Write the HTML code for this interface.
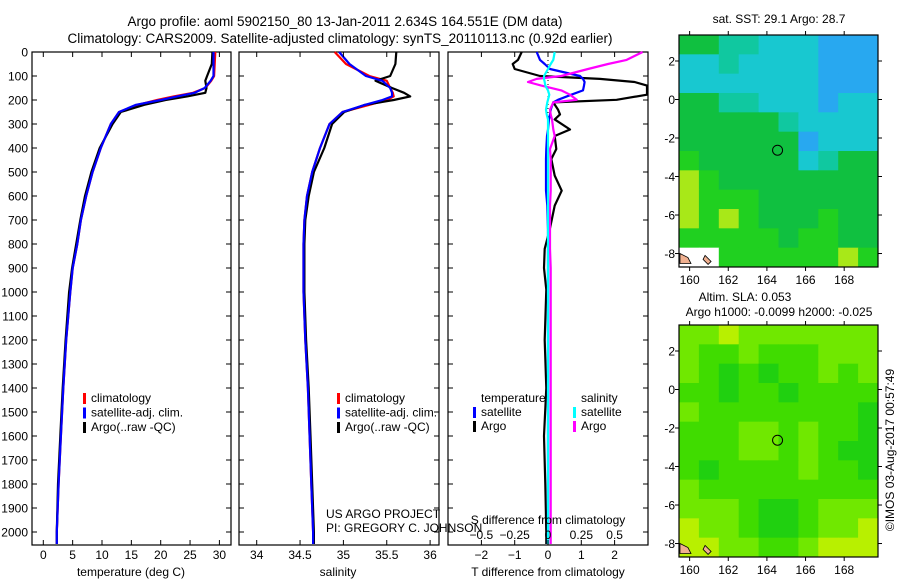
<!DOCTYPE html>
<html><head><meta charset="utf-8">
<style>
html,body{margin:0;padding:0;background:#fff;}
#root{position:relative;width:900px;height:580px;overflow:hidden;font-family:"Liberation Sans",sans-serif;}
svg text{font-family:"Liberation Sans",sans-serif;}
</style></head>
<body>
<div id="root">
<svg id="fig" width="900" height="580" xmlns="http://www.w3.org/2000/svg"></svg>
</div>
<script>
// ---------- DATA ----------
const depths = [0,50,100,120,150,170,185,200,220,250,300,400,500,600,700,800,900,1000,1200,1400,1600,1800,2000,2050];
const tempClim = [29.3,29.2,29.1,28.6,27.6,25.5,22.2,19.4,16.1,12.9,11.5,9.8,8.4,7.3,6.4,5.8,5.0,4.6,3.9,3.4,3.0,2.6,2.3,2.3];
const tempSat  = [29.0,29.0,29.0,28.5,27.5,25.8,22.8,20.0,15.8,12.9,11.5,9.8,8.4,7.3,6.4,5.8,5.0,4.6,3.9,3.4,3.0,2.6,2.3,2.3];
const tempArgo = [28.8,28.7,27.9,27.6,27.8,27.6,24.5,20.8,17.2,13.2,11.8,9.6,8.2,7.1,6.3,5.6,4.9,4.4,3.8,3.3,2.9,2.5,2.3,2.3];
const salClim = [34.90,35.03,35.30,35.50,35.54,35.57,35.58,35.50,35.30,34.99,34.84,34.73,34.64,34.58,34.55,34.54,34.54,34.54,34.56,34.59,34.61,34.63,34.65,34.65];
const salSat  = [34.95,35.07,35.26,35.45,35.54,35.56,35.56,35.45,35.25,34.99,34.84,34.73,34.64,34.58,34.55,34.54,34.54,34.54,34.56,34.59,34.61,34.63,34.65,34.65];
const salArgo = [35.61,35.60,35.54,35.37,35.56,35.70,35.77,35.58,35.25,35.01,34.87,34.78,34.66,34.60,34.56,34.55,34.55,34.55,34.57,34.60,34.62,34.64,34.66,34.66];
const diffDepths = [0,33,50,71,100,112,125,140,160,178,199,210,240,260,281,323,350,404,446,515,578,640,740,820,900,990,1200,1400,1600,1800,2000,2050];
const tdiffSat  = [-0.34,-0.24,-0.1,0.06,0.96,1.05,1.1,1.08,1.05,0.7,0.3,0.16,0.08,0.06,0.03,0.0,-0.03,-0.05,-0.06,-0.06,-0.06,-0.02,0,0,0,0,0,0,0,0,0,0];
const tdiffArgo = [-0.79,-0.9,-1.06,-1.0,-0.24,1.56,2.6,3.2,3.2,3.2,2.06,0.16,0.3,0.36,0.2,0.66,0.2,0.25,0.1,0.2,0.41,0.2,0.05,-0.1,-0.12,-0.05,-0.1,-0.05,-0.12,-0.08,-0.05,-0.05];
const sdiffSat  = [0.05,0.04,0.02,0.0,-0.03,-0.03,-0.025,-0.02,0.0,0.01,0.0,-0.005,-0.015,-0.01,0,0,0,0,0,0,0,0,0,0,0,0,0,0,0,0,0,0];
const sdiffArgo = [0.71,0.59,0.45,0.30,0.10,-0.085,-0.15,-0.05,0.1,0.165,0.215,0.04,0.015,0.02,0.03,0.04,0.05,0.015,0.02,0.02,0.02,0.015,0.015,0.015,0.02,0.02,0.02,0.02,0.02,0.02,0.02,0.02];
const depthTicks = [0,100,200,300,400,500,600,700,800,900,1000,1100,1200,1300,1400,1500,1600,1700,1800,1900,2000];
const tempTicks = [0,5,10,15,20,25,30];
const salTicks = [34,34.5,35,35.5,36];
const tdiffTicks = [-2,-1,0,1,2];
const sdiffTicks = [-0.5,-0.25,0,0.25,0.5];
const lonTicks = [160,162,164,166,168];
const latTicks = [2,0,-2,-4,-6,-8];
const sstGrid = [
 "GGCCcccBBB",
 "ccCccccBBB",
 "cccccccBBB",
 "GGCCcccBcc",
 "GGGGGCcccc",
 "GGGGGGBccc",
 "gGGGGGcCGG",
 "YgGGGGGGGG",
 "YgggGGGGGG",
 "YgYgGGGgGG",
 "gggggGggGG",
 "WWggggggYg"];
const slaGrid = [
 "LLYLLLLLLL",
 "LMMLMMMLLL",
 "LMDMDMMLML",
 "MMDMMDMMMM",
 "LMMMMMMMMD",
 "MMMLLMLMMD",
 "MMMLLMLMDD",
 "MDMMMMLMMD",
 "LMMMMMMMMM",
 "LLLMDDMLLL",
 "YLLMDDMLLY",
 "YYLLMMLYYY"];
const argoLon = 164.551, argoLat = -2.634;

// ---------- HELPERS ----------
const NS="http://www.w3.org/2000/svg";
const svg=document.getElementById('fig');
function mk(tag,attrs,parent){const e=document.createElementNS(NS,tag);for(const k in attrs)e.setAttribute(k,attrs[k]);(parent||svg).appendChild(e);return e;}
function txt(x,y,s,attrs,parent){const t=mk('text',Object.assign({x:x,y:y,'font-size':12,fill:'#000'},attrs||{}),parent);t.textContent=s;return t;}

const yTop=52, yBot=545;
const yD = d => yTop + d*0.24;
const xT = v => 43.3 + v*5.87;
const xS = v => 256.7 + (v-34)*86.7;
const xTd = v => 548 + v*33.3;
const xSd = v => 548 + v*133.3;

function frame(x0,x1,name){
  const r=mk('rect',{x:x0,y:yTop,width:x1-x0,height:yBot-yTop,fill:'none',stroke:'#000','stroke-width':1.2});
  
  
  depthTicks.forEach(d=>{
    mk('line',{x1:x0,x2:x0+5,y1:yD(d),y2:yD(d),stroke:'#000'});
    mk('line',{x1:x1-5,x2:x1,y1:yD(d),y2:yD(d),stroke:'#000'});
  });
}
function series(xs,ds,xf,color,name,clip){
  const pts=ds.map((d,i)=>{let x=xf(xs[i]);if(clip){x=Math.max(clip[0],Math.min(clip[1],x));}return x.toFixed(1)+','+yD(d).toFixed(1);}).join(' ');
  const p=mk('polyline',{points:pts,fill:'none',stroke:color,'stroke-width':2.2,'stroke-linejoin':'round'});
  
  
}
function xticks(vals,xf,y0,labels,name){
  const g=mk('g',{});
  
  
  vals.forEach((v,i)=>{
    mk('line',{x1:xf(v),x2:xf(v),y1:yBot,y2:yBot-5,stroke:'#000'},g);
    mk('line',{x1:xf(v),x2:xf(v),y1:yTop,y2:yTop+5,stroke:'#000'},g);
    txt(xf(v),y0,labels?labels[i]:String(v),{'text-anchor':'middle'},g);
  });
}

// ---------- TITLES ----------
let t=txt(345,26,'Argo profile: aoml 5902150_80 13-Jan-2011 2.634S 164.551E (DM data)',{'text-anchor':'middle','font-size':13.5});

t=txt(340,43,'Climatology: CARS2009. Satellite-adjusted climatology: synTS_20110113.nc (0.92d earlier)',{'text-anchor':'middle','font-size':13.5});


// ---------- PANEL 1 ----------
frame(32,231,'temperature-panel');
const yl=mk('g',{});


depthTicks.forEach(d=>txt(28,yD(d)+4.5,String(d),{'text-anchor':'end'},yl));
series(tempClim,depths,xT,'#ff0000','temp-climatology-line');
series(tempArgo,depths,xT,'#000000','temp-argo-line');
series(tempSat,depths,xT,'#0000ff','temp-satellite-line');
xticks(tempTicks,xT,559,null,'temperature-x-ticks');
t=txt(131,576,'temperature (deg C)',{'text-anchor':'middle'});
function legend(x,y,items,name){
  const g=mk('g',{});
  
  
  items.forEach((it,i)=>{
    mk('rect',{x:x,y:y+i*14.5-9,width:3,height:11,fill:it[0]},g);
    txt(x+8,y+i*14.5,it[1],{},g);
  });
}
legend(83,402,[['#ff0000','climatology'],['#0000ff','satellite-adj. clim.'],['#000','Argo(..raw -QC)']],'temperature-legend');

// ---------- PANEL 2 ----------
frame(239,439,'salinity-panel');
series(salClim,depths,xS,'#ff0000','sal-climatology-line');
series(salArgo,depths,xS,'#000000','sal-argo-line');
series(salSat,depths,xS,'#0000ff','sal-satellite-line');
xticks(salTicks,xS,559,null,'salinity-x-ticks');
t=txt(338,576,'salinity',{'text-anchor':'middle'});
legend(337,402,[['#ff0000','climatology'],['#0000ff','satellite-adj. clim.'],['#000','Argo(..raw -QC)']],'salinity-legend');

// ---------- PANEL 3 ----------
frame(448,648,'difference-panel');
mk('line',{x1:548,x2:548,y1:yTop,y2:yBot,stroke:'#000','stroke-dasharray':'1,3'});
const clip=[449,647];
series(tdiffArgo,diffDepths,xTd,'#000000','tdiff-argo-line',clip);
series(tdiffSat,diffDepths,xTd,'#0000ff','tdiff-satellite-line',clip);
series(sdiffArgo,diffDepths,xSd,'#ff00ff','sdiff-argo-line',clip);
series(sdiffSat,diffDepths,xSd,'#00ffff','sdiff-satellite-line',clip);
xticks(tdiffTicks,xTd,559,['\u22122','\u22121','0','1','2'],'tdiff-x-ticks');
const sg=mk('g',{});


sdiffTicks.forEach(v=>txt(xSd(v),539,String(v).replace('-','\u2212'),{'text-anchor':'middle'},sg));
t=txt(548,524,'S difference from climatology',{'text-anchor':'middle'});
t=txt(548,576,'T difference from climatology',{'text-anchor':'middle'});
const dl=mk('g',{});


txt(481,402,'temperature',{},dl);txt(581,402,'salinity',{},dl);
[['#0000ff','satellite',473,416],['#000','Argo',473,430],['#00ffff','satellite',573,416],['#ff00ff','Argo',573,430]].forEach(it=>{
  mk('rect',{x:it[2],y:it[3]-9,width:3,height:11,fill:it[0]},dl);
  txt(it[2]+8,it[3],it[1],{},dl);
});
t=txt(326,518,'US ARGO PROJECT');
t=txt(326,532,'PI: GREGORY C. JOHNSON');

// ---------- MAPS ----------
const mapX0=679, mapX1=878;
const lonMin=159.45, lonMax=169.75, latMax=3.35, latMin=-8.7;
function mapPanel(y0,y1,grid,colors,name){
  const xL=v=>mapX0+(v-lonMin)/(lonMax-lonMin)*(mapX1-mapX0);
  const yL=v=>y0+(latMax-v)/(latMax-latMin)*(y1-y0);
  const g=mk('g',{});
  
  
  grid.forEach((row,r)=>{
    for(let c=0;c<row.length;c++){
      const la0=latMax-r*(latMax-latMin)/grid.length, la1=latMax-(r+1)*(latMax-latMin)/grid.length;
      const lo0=lonMin+c*(lonMax-lonMin)/row.length, lo1=lonMin+(c+1)*(lonMax-lonMin)/row.length;
      const cell=mk('rect',{x:xL(lo0),y:yL(la0),width:xL(lo1)-xL(lo0)+0.5,height:yL(la1)-yL(la0)+0.5,fill:colors[row[c]]||'#fff'},g);
      
      
    }
  });
  mk('path',{d:`M${xL(159.5)} ${yL(-8.0)} l8 4 l3 6 l-11 0 z`,fill:'#f0b090',stroke:'#000','stroke-width':0.8},g);
  mk('path',{d:`M${xL(160.8)} ${yL(-8.1)} l6 6 l-3 3 l-5 -5 z`,fill:'#f0b090',stroke:'#000','stroke-width':0.8},g);
  mk('rect',{x:mapX0,y:y0,width:mapX1-mapX0,height:y1-y0,fill:'none',stroke:'#000','stroke-width':1.2},g);
  const c=mk('circle',{cx:xL(argoLon),cy:yL(argoLat),r:5,fill:'none',stroke:'#000','stroke-width':1},g);
  
  
  lonTicks.forEach(v=>{
    mk('line',{x1:xL(v),x2:xL(v),y1:y0,y2:y0-4,stroke:'#000'},g);
    mk('line',{x1:xL(v),x2:xL(v),y1:y1,y2:y1+4,stroke:'#000'},g);
    txt(xL(v),y1+17,String(v),{'text-anchor':'middle'},g);
  });
  latTicks.forEach(v=>{
    mk('line',{x1:mapX0,x2:mapX0-4,y1:yL(v),y2:yL(v),stroke:'#000'},g);
    mk('line',{x1:mapX1,x2:mapX1+4,y1:yL(v),y2:yL(v),stroke:'#000'},g);
    txt(675,yL(v)+4.5,String(v),{'text-anchor':'end'},g);
  });
}
mapPanel(35,267,sstGrid,{G:'#10c040',g:'#20d020',Y:'#a8e818',C:'#10c8a0',c:'#18c8d0',B:'#28a8f0',W:'#ffffff'},'sst-map');
mapPanel(325,557,slaGrid,{L:'#70e800',M:'#40dc00',D:'#20d010',Y:'#b8f000'},'sla-map');
t=txt(779,23,'sat. SST: 29.1 Argo: 28.7',{'text-anchor':'middle'});
t=txt(745,301,'Altim. SLA: 0.053',{'text-anchor':'middle'});
t=txt(779,316,'Argo h1000: -0.0099 h2000: -0.025',{'text-anchor':'middle'});
t=txt(0,0,'\u00a9IMOS 03-Aug-2017 00:57:49',{'text-anchor':'middle',transform:'translate(894,450) rotate(-90)'});

</script>
</body></html>
